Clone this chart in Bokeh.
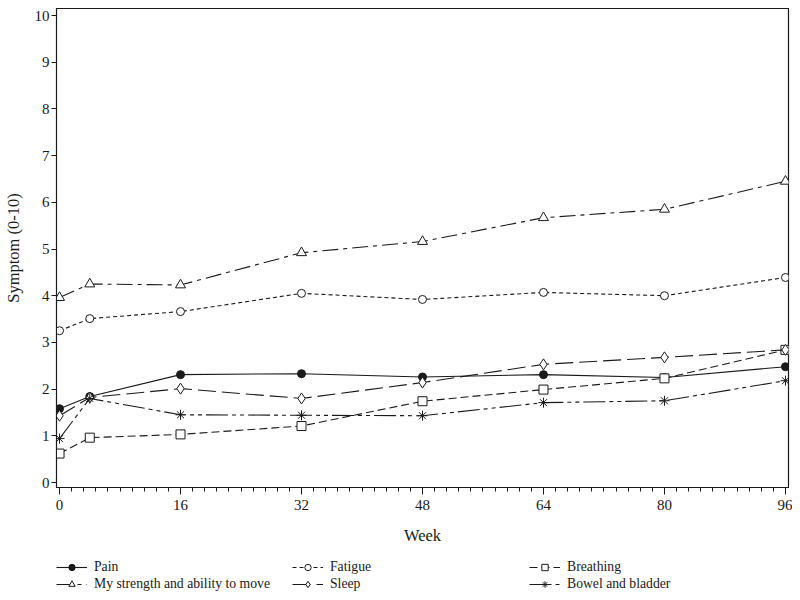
from bokeh.plotting import figure
from bokeh.models import Range1d, FixedTicker, Legend, LegendItem
from bokeh.layouts import column
from bokeh.embed import file_html
from bokeh.resources import INLINE

weeks = [0, 4, 16, 32, 48, 64, 80, 96]
pain = [1.58, 1.84, 2.31, 2.33, 2.26, 2.31, 2.25, 2.48]
fatigue = [3.25, 3.51, 3.66, 4.05, 3.92, 4.07, 4.00, 4.39]
breathing = [0.62, 0.96, 1.03, 1.21, 1.74, 1.99, 2.23, 2.84]
strength = [3.96, 4.25, 4.23, 4.92, 5.16, 5.67, 5.85, 6.45]
sleep = [1.43, 1.82, 2.01, 1.80, 2.14, 2.53, 2.68, 2.84]
bowel = [0.94, 1.80, 1.45, 1.44, 1.43, 1.71, 1.75, 2.18]

x_ticks = [0, 16, 32, 48, 64, 80, 96]
y_ticks = list(range(0, 11))

FONT = "Liberation Serif"
INK = "#1a1a1a"

p = figure(width=792, height=550, output_backend="svg", toolbar_location=None,
           x_range=Range1d(-0.4, 96.4), y_range=Range1d(-0.107, 10.15),
           min_border_left=56, min_border_right=4, min_border_top=8, min_border_bottom=63)
p.grid.visible = False
p.outline_line_color = INK
p.outline_line_width = 1.2
p.background_fill_color = "white"
p.border_fill_color = "white"

p.xaxis.ticker = FixedTicker(ticks=x_ticks, minor_ticks=[i * 1.6 for i in range(61)])
p.yaxis.ticker = FixedTicker(ticks=y_ticks, minor_ticks=[])
for ax in (p.xaxis[0], p.yaxis[0]):
    ax.axis_line_color = INK
    ax.major_tick_line_color = INK
    ax.minor_tick_line_color = INK
    ax.major_label_text_font = FONT
    ax.major_label_text_font_size = "15px"
    ax.major_label_text_color = INK
    ax.axis_label_text_font = FONT
    ax.axis_label_text_font_size = "16.5px"
    ax.axis_label_text_font_style = "normal"
    ax.axis_label_text_color = INK
    ax.major_tick_in = 0
    ax.minor_tick_in = 0
p.xaxis.major_tick_out = 7
p.xaxis.minor_tick_out = 4
p.xaxis.major_label_standoff = 5
p.xaxis.axis_label = "Week"
p.xaxis.axis_label_standoff = 13
p.yaxis.major_tick_out = 5
p.yaxis.minor_tick_out = 0
p.yaxis.major_label_standoff = 2
p.yaxis.axis_label = "Symptom (0-10)"
p.yaxis.axis_label_standoff = 9

series = [
    ("Pain", pain, "solid", "circle", INK, 8),
    ("Fatigue", fatigue, "4 3", "circle", "white", 8),
    ("Breathing", breathing, "8 4", "square", "white", 9),
    ("My strength and ability to move", strength, "16 5 4 5", "triangle", "white", 10),
    ("Sleep", sleep, "18 6", "diamond", "white", 11),
    ("Bowel and bladder", bowel, "22 4 4 4 4 4", "asterisk", "white", 10),
]

# legend strip: a second figure whose range excludes the data, used only for the key
lf = figure(width=792, height=48, output_backend="svg", toolbar_location=None,
            x_axis_type=None, y_axis_type=None,
            x_range=Range1d(1000, 1001), y_range=Range1d(1000, 1001),
            min_border_left=0, min_border_right=0, min_border_top=0, min_border_bottom=0)
lf.grid.visible = False
lf.outline_line_color = None
lf.background_fill_color = "white"
lf.border_fill_color = "white"

items = {}
for name, vals, dash, marker, fill, size in series:
    p.line(weeks, vals, line_color=INK, line_width=1.1, line_dash=dash)
    p.scatter(weeks, vals, marker=marker, size=size, line_color=INK,
              fill_color=fill, line_width=1)
    lr = lf.line(weeks, vals, line_color=INK, line_width=1.1, line_dash=dash)
    sr = lf.scatter(weeks, vals, marker=marker, size=size - 2, line_color=INK,
                    fill_color=fill, line_width=1)
    items[name] = LegendItem(label=name, renderers=[lr, sr])

cols = [
    (["Pain", "My strength and ability to move"], 0),
    (["Fatigue", "Sleep"], 236),
    (["Breathing", "Bowel and bladder"], 473),
]
for names, xoff in cols:
    lg = Legend(items=[items[n] for n in names], location=(xoff, 6),
                orientation="vertical", border_line_color=None,
                background_fill_alpha=0, padding=0, margin=0, spacing=1,
                glyph_width=31, glyph_height=16, label_height=16,
                label_standoff=7, label_text_font=FONT,
                label_text_font_size="13.7px", label_text_color=INK)
    lf.add_layout(lg, "center")

open("out.html", "w").write(file_html(column(p, lf), INLINE))
